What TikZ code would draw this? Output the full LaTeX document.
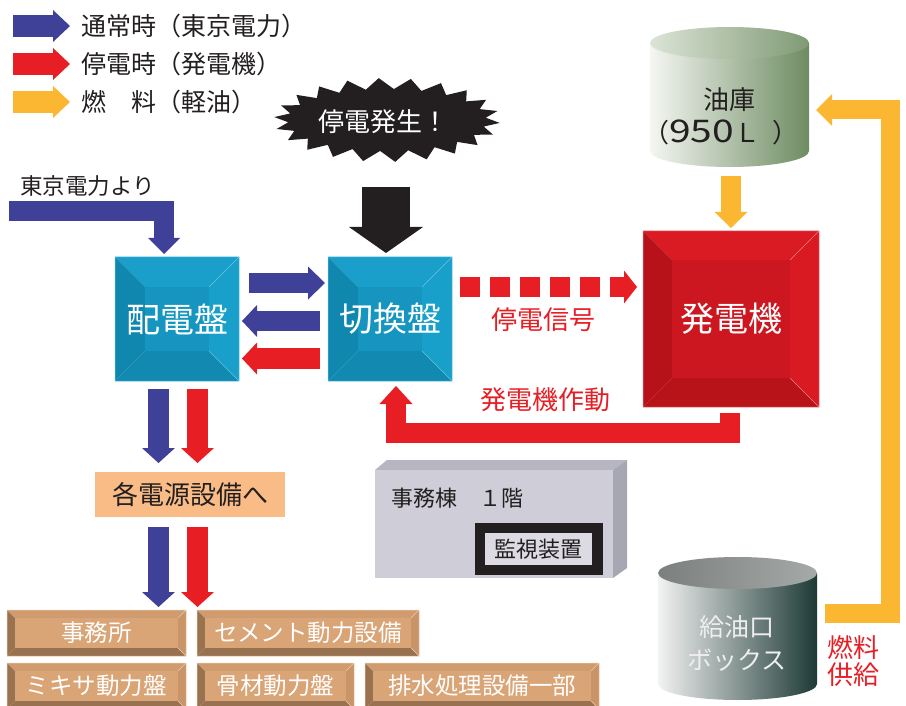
\documentclass[tikz,border=0pt]{standalone}
\usepackage{fontspec}
\usepackage{graphicx}
\newfontfamily\jpfont{Noto Sans CJK JP}
\usetikzlibrary{arrows.meta}
\definecolor{cblue}{HTML}{3F4199}
\definecolor{cred}{HTML}{E81E25}
\definecolor{corange}{HTML}{FBB731}
\definecolor{cblack}{HTML}{231F20}
\definecolor{cpeach}{HTML}{F9BC86}
% cyan bevel
\definecolor{cyT}{HTML}{1A9FCB}
\definecolor{cyL}{HTML}{1087AE}
\definecolor{cyR}{HTML}{18A0CA}
\definecolor{cyB}{HTML}{1189B0}
\definecolor{cyC}{HTML}{1595C0}
\definecolor{cyD}{HTML}{62C2E0}
% red bevel
\definecolor{rdT}{HTML}{DA1B23}
\definecolor{rdL}{HTML}{B71219}
\definecolor{rdR}{HTML}{D91A22}
\definecolor{rdB}{HTML}{B9131A}
\definecolor{rdC}{HTML}{CD1720}
\definecolor{rdD}{HTML}{EC7C82}
% brown bevel
\definecolor{brT}{HTML}{D09C6F}
\definecolor{brL}{HTML}{997250}
\definecolor{brR}{HTML}{C99568}
\definecolor{brB}{HTML}{987150}
\definecolor{brC}{HTML}{D9A476}
\definecolor{brD}{HTML}{EBC7A4}
% building
\definecolor{bdF}{HTML}{CECDD8}
\definecolor{bdT}{HTML}{B6B5C1}
\definecolor{bdR}{HTML}{A7A6B3}
\definecolor{bdI}{HTML}{DCDBE3}
% tanks
\definecolor{tkL}{HTML}{F4F6F2}
\definecolor{tkR}{HTML}{6E8C62}
\definecolor{tkTL}{HTML}{DCE4D7}
\definecolor{tkTR}{HTML}{7F9A74}
\definecolor{fbL}{HTML}{F2F2F2}
\definecolor{fbR}{HTML}{1D3A35}
\definecolor{fbTL}{HTML}{7B7F7D}
\definecolor{fbTR}{HTML}{A5A9A7}
\definecolor{fbtext}{HTML}{EEEEEE}

\tikzset{
  barrow/.style n args={3}{line width=#1, line join=miter,
    -{Triangle[width=#2,length=#3,line width=0pt]}},
  legtext/.style={anchor=west, text=cblack, inner sep=0pt,
    font={\jpfont\fontsize{25}{30}\selectfont}},
  cytext/.style={text=white, inner sep=0pt, font={\jpfont\fontsize{34}{40}\selectfont}},
  rdtext/.style={text=white, inner sep=0pt, font={\jpfont\fontsize{34}{40}\selectfont}},
  brtext/.style={text=white, inner sep=0pt, font={\jpfont\fontsize{23.5}{28}\selectfont}},
  redlabel/.style={text=cred, inner sep=0pt, font={\jpfont\fontsize{26}{30}\selectfont}},
  darktext/.style={text=cblack, inner sep=0pt, font={\jpfont\fontsize{26}{30}\selectfont}},
  smalldark/.style={text=cblack, inner sep=0pt, font={\jpfont\fontsize{22}{26}\selectfont}},
}

% name, cx, cy, half width, half height, bevel, colour prefix, text
\newcommand\bevbox[8]{%
  \fill[#7T] (#2-#4,#3-#5) -- (#2+#4,#3-#5) -- (#2+#4-#6,#3-#5+#6) -- (#2-#4+#6,#3-#5+#6) -- cycle;
  \fill[#7B] (#2-#4,#3+#5) -- (#2+#4,#3+#5) -- (#2+#4-#6,#3+#5-#6) -- (#2-#4+#6,#3+#5-#6) -- cycle;
  \fill[#7L] (#2-#4,#3-#5) -- (#2-#4+#6,#3-#5+#6) -- (#2-#4+#6,#3+#5-#6) -- (#2-#4,#3+#5) -- cycle;
  \fill[#7R] (#2+#4,#3-#5) -- (#2+#4-#6,#3-#5+#6) -- (#2+#4-#6,#3+#5-#6) -- (#2+#4,#3+#5) -- cycle;
  \fill[#7C] (#2-#4+#6,#3-#5+#6) rectangle (#2+#4-#6,#3+#5-#6);
  \draw[#7D, line width=0.5pt] (#2+#4,#3-#5) -- (#2+#4-#6,#3-#5+#6)
     (#2+#4,#3+#5) -- (#2+#4-#6,#3+#5-#6)
     (#2-#4,#3-#5) rectangle (#2+#4,#3+#5);
  \node[#7text, minimum width=2*#4, minimum height=2*#5] (#1) at (#2,#3) {#8};
}

\begin{document}
\begin{tikzpicture}[x=1pt,y=-1pt]
\useasboundingbox (0,0) rectangle (906,706);

% ---------- legend ----------
\coordinate (l1a) at (13,26);  \coordinate (l1b) at (70,26);
\coordinate (l2a) at (13,64);  \coordinate (l2b) at (70,64);
\coordinate (l3a) at (13,102); \coordinate (l3b) at (70,102);
\draw[barrow={22pt}{32pt}{17pt}, cblue]   (l1a) -- (l1b);
\draw[barrow={22pt}{32pt}{17pt}, cred]    (l2a) -- (l2b);
\draw[barrow={22pt}{32pt}{17pt}, corange] (l3a) -- (l3b);
\node[legtext] (leg1) at (81,26)  {通常時（東京電力）};
\node[legtext] (leg2) at (81,64)  {停電時（発電機）};
\node[legtext] (leg3) at (81,102) {燃　料（軽油）};

% ---------- starburst ----------
\fill[cblack] plot[variable=\k, samples at={0,...,43}]
  ({387+(mod(\k,2)==0?113:99)*cos(\k*360/44+4)},{120+(mod(\k,2)==0?42:31)*sin(\k*360/44+4)}) -- cycle;
\node[text=white, inner sep=0pt, font={\jpfont\fontsize{26}{30}\selectfont}] (outage) at (383,122) {停電発生！};

% ---------- boxes ----------
\bevbox{haiden}{177}{319}{62}{62}{30}{cy}{配電盤}
\bevbox{kirikae}{390}{319}{62}{62}{30}{cy}{切換盤}
\bevbox{gen}{731}{319}{88}{88}{29}{rd}{発電機}

% black arrow from starburst to switch board
\coordinate (bka) at (386,187); \coordinate (bkb) at (386,253);
\draw[barrow={48pt}{74pt}{26pt}, cblack] (bka) -- (bkb);

% supply from TEPCO
\node[anchor=west, text=cblack, inner sep=0pt, font={\jpfont\fontsize{22.5}{26}\selectfont}] (tepco) at (20,186) {東京電力より};
\coordinate (tpa) at (9,211); \coordinate (tpb) at (164,254);
\draw[barrow={20pt}{32pt}{16pt}, cblue] (tpa) -| (tpb);

% arrows between boards
\draw[barrow={20pt}{33pt}{17pt}, cblue] (249,283) -- (325,283);
\draw[barrow={20pt}{32pt}{15pt}, cblue] (320,321) -- (242,321);
\draw[barrow={21pt}{32pt}{15pt}, cred]  (320,358.5) -- (242,358.5);

% down arrows
\draw[barrow={21pt}{33pt}{15pt}, cblue] (158.5,389) -- (158.5,463);
\draw[barrow={21pt}{33pt}{15pt}, cred]  (197.5,389) -- (197.5,463);
\node[fill=cpeach, minimum width=190, minimum height=45, inner sep=0pt, text=cblack,
      font={\jpfont\fontsize{26}{30}\selectfont}] (kaku) at (190,494.5) {各電源設備へ};
\draw[barrow={21pt}{33pt}{15pt}, cblue] (158.5,527) -- (158.5,607);
\draw[barrow={21pt}{33pt}{15pt}, cred]  (197.5,527) -- (197.5,607);

% equipment boxes
\bevbox{b1}{96.5}{633}{89.5}{23}{8}{br}{事務所}
\bevbox{b2}{308}{633}{111}{23}{8}{br}{セメント動力設備}
\bevbox{b3}{96.5}{686}{89.5}{23}{8}{br}{ミキサ動力盤}
\bevbox{b4}{275.5}{686}{78.5}{23}{8}{br}{骨材動力盤}
\bevbox{b5}{482}{686}{117}{23}{8}{br}{排水処理設備一部}

% outage signal (dashed)
\draw[line width=20pt, dash pattern=on 20pt off 10pt, cred,
      -{Triangle[width=33pt,length=13pt,line width=0pt]}] (460,287) -- (637,287);
\node[redlabel] (sig) at (543,320) {停電信号};

% generator running
\node[redlabel] (run) at (545,400) {発電機作動};
\draw[barrow={20pt}{33pt}{18pt}, cred] (730,413) |- (396,433) -- (396,386);

% ---------- oil tank ----------
\shade[left color=tkL, right color=tkR] (650,43) -- (650,151)
  arc[start angle=180, end angle=0, x radius=79.5, y radius=16] -- (809,43) -- cycle;
\shade[left color=tkTL, right color=tkTR] (729.5,43) ellipse[x radius=79.5, y radius=16];
\node[darktext] (tank) at (729.5,100) {油庫};
\node[darktext, anchor=west] (tankcap) at (643,132) {（\scalebox{1.5}[1.2]{950}Ｌ\hspace{12pt}）};

\draw[barrow={20pt}{33pt}{16pt}, corange] (731,176) -- (731,228);

% ---------- fuel box ----------
\shade[left color=fbL, right color=fbR] (658,573) -- (658,684)
  arc[start angle=180, end angle=0, x radius=79.5, y radius=16] -- (817,573) -- cycle;
\shade[left color=fbTL, right color=fbTR] (737.5,573) ellipse[x radius=79.5, y radius=16];
\node[text=fbtext, inner sep=0pt, font={\jpfont\fontsize{25}{29}\selectfont}] (fb1) at (737,627) {給油口};
\node[text=fbtext, inner sep=0pt, font={\jpfont\fontsize{25}{29}\selectfont}] (fb2) at (737,660) {ボックス};

\draw[barrow={19pt}{32pt}{16pt}, corange] (825,613) -| (890,110) -- (816,110);
\node[redlabel] (sup1) at (853,648) {燃料};
\node[redlabel] (sup2) at (853,675) {供給};

% ---------- office building ----------
\fill[bdT] (375,470) -- (387,460) -- (627,460) -- (613,470) -- cycle;
\fill[bdR] (613,470) -- (627,460) -- (627,568) -- (613,578) -- cycle;
\fill[bdF] (375,470) rectangle (613,578);
\node[anchor=west, smalldark] (office) at (391,498) {事務棟　１階};
\fill[cblack] (475,523) rectangle (603,575);
\fill[bdI] (485,533) rectangle (592,565);
\node[smalldark] (monitor) at (538.5,549) {監視装置};
\end{tikzpicture}
\end{document}
